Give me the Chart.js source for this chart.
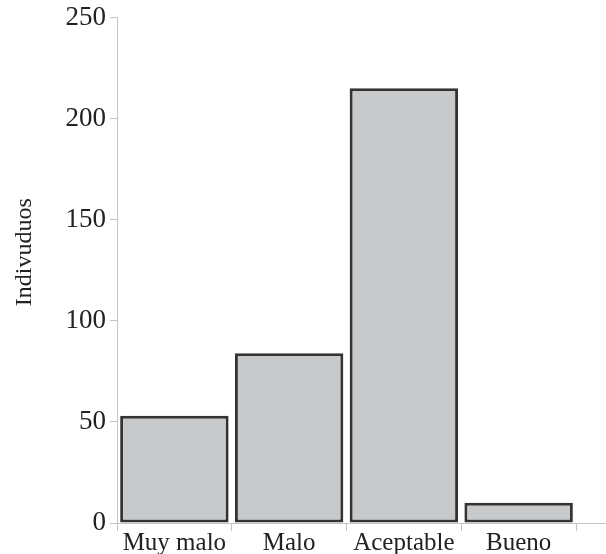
<!DOCTYPE html>
<html>
<head>
<meta charset="utf-8">
<script src="https://cdn.jsdelivr.net/npm/chart.js@4"></script>
<style>
    html, body { margin: 0; padding: 0; background: #fff; overflow: hidden; }
    #wrap { width: 606px; height: 554px; }
</style>
</head>
<body>
<div id="wrap"><canvas id="chart"></canvas></div>
<script>
const categories = ["Muy malo", "Malo", "Aceptable", "Bueno"];
const individuos = [53, 84, 215, 10];
const yTicks = [0, 50, 100, 150, 200, 250];
const yTitle = "Indivuduos";

const fontFamily = "'Liberation Serif', serif";

// extends the bottom axis line to the right edge, like the original
const extendAxis = {
    id: "extendAxis",
    afterDraw(chart) {
        const { ctx, chartArea } = chart;
        ctx.save();
        ctx.strokeStyle = "#c4c4c4";
        ctx.lineWidth = 1;
        ctx.beginPath();
        ctx.moveTo(chartArea.right, chartArea.bottom + 0.5);
        ctx.lineTo(chart.width, chartArea.bottom + 0.5);
        ctx.stroke();
        ctx.restore();
    }
};

const ctx = document.getElementById("chart");

const graph = new Chart(ctx, {
    type: "bar",
    data: {
        labels: categories,
        datasets: [
            {
                label: "Individuos",
                data: individuos,
                backgroundColor: "#c8c9cb",
                borderColor: "#333333",
                borderWidth: 3,
                borderSkipped: false,
                barPercentage: 0.945,
                categoryPercentage: 1
            }
        ]
    },
    options: {
        responsive: true,
        maintainAspectRatio: false,
        animation: false,
        layout: {
            padding: { top: 17, right: 30, bottom: 0, left: 0 }
        },
        scales: {
            x: {
                afterFit: function(scale) { scale.height = 31; },
                border: { color: "#c4c4c4" },
                grid: {
                    offset: true,
                    drawOnChartArea: false,
                    tickLength: 8,
                    color: "#c4c4c4"
                },
                ticks: {
                    color: "#222",
                    padding: 0,
                    font: { family: fontFamily, size: 25, lineHeight: 1 }
                }
            },
            y: {
                min: 0,
                max: 250,
                afterFit: function(scale) { scale.width = 117; },
                afterBuildTicks: function(scale) {
                    scale.ticks = yTicks.map(v => ({ value: v }));
                },
                border: { color: "#c4c4c4" },
                grid: {
                    drawOnChartArea: false,
                    tickLength: 7,
                    color: "#c4c4c4"
                },
                ticks: {
                    color: "#222",
                    padding: 4,
                    font: { family: fontFamily, size: 27, lineHeight: 1 }
                },
                title: {
                    display: true,
                    // leading spaces nudge the rotated title up a little
                    text: "      " + yTitle,
                    color: "#222",
                    padding: { top: 10, bottom: 0 },
                    font: { family: fontFamily, size: 24, weight: "normal" }
                }
            }
        },
        plugins: {
            legend: { display: false },
            tooltip: { enabled: false }
        }
    },
    plugins: [extendAxis]
});
</script>
</body>
</html>
